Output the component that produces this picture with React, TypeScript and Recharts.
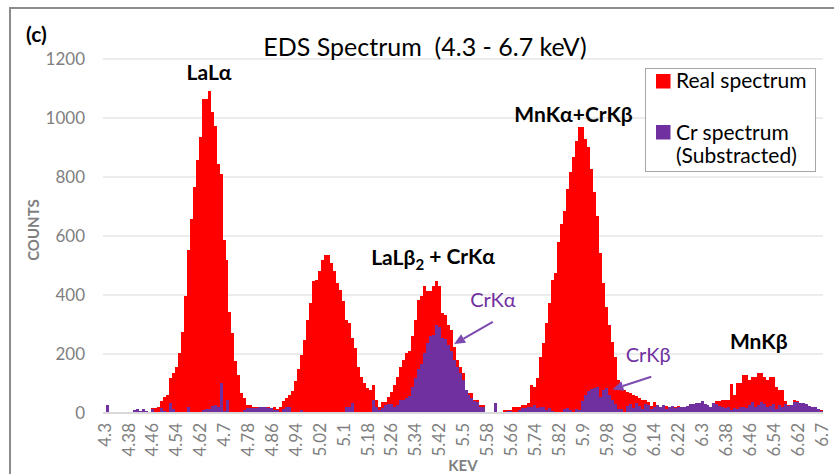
import React from "react";
import { BarChart, Bar, XAxis, YAxis, CartesianGrid, Legend, ReferenceDot, ReferenceLine } from "recharts";

const FONT = "Lato, 'Open Sans', sans-serif";
const RED = "#ff0000";
const PURPLE = "#7030a0";
const GREY = "#7f7f7f";

// energy bins (keV), 0.01 keV wide
const KEV = [
  4.3, 4.31, 4.32, 4.33, 4.34, 4.35, 4.36, 4.37, 4.38, 4.39,
  4.4, 4.41, 4.42, 4.43, 4.44, 4.45, 4.46, 4.47, 4.48, 4.49,
  4.5, 4.51, 4.52, 4.53, 4.54, 4.55, 4.56, 4.57, 4.58, 4.59,
  4.6, 4.61, 4.62, 4.63, 4.64, 4.65, 4.66, 4.67, 4.68, 4.69,
  4.7, 4.71, 4.72, 4.73, 4.74, 4.75, 4.76, 4.77, 4.78, 4.79,
  4.8, 4.81, 4.82, 4.83, 4.84, 4.85, 4.86, 4.87, 4.88, 4.89,
  4.9, 4.91, 4.92, 4.93, 4.94, 4.95, 4.96, 4.97, 4.98, 4.99,
  5.0, 5.01, 5.02, 5.03, 5.04, 5.05, 5.06, 5.07, 5.08, 5.09,
  5.1, 5.11, 5.12, 5.13, 5.14, 5.15, 5.16, 5.17, 5.18, 5.19,
  5.2, 5.21, 5.22, 5.23, 5.24, 5.25, 5.26, 5.27, 5.28, 5.29,
  5.3, 5.31, 5.32, 5.33, 5.34, 5.35, 5.36, 5.37, 5.38, 5.39,
  5.4, 5.41, 5.42, 5.43, 5.44, 5.45, 5.46, 5.47, 5.48, 5.49,
  5.5, 5.51, 5.52, 5.53, 5.54, 5.55, 5.56, 5.57, 5.58, 5.59,
  5.6, 5.61, 5.62, 5.63, 5.64, 5.65, 5.66, 5.67, 5.68, 5.69,
  5.7, 5.71, 5.72, 5.73, 5.74, 5.75, 5.76, 5.77, 5.78, 5.79,
  5.8, 5.81, 5.82, 5.83, 5.84, 5.85, 5.86, 5.87, 5.88, 5.89,
  5.9, 5.91, 5.92, 5.93, 5.94, 5.95, 5.96, 5.97, 5.98, 5.99,
  6.0, 6.01, 6.02, 6.03, 6.04, 6.05, 6.06, 6.07, 6.08, 6.09,
  6.1, 6.11, 6.12, 6.13, 6.14, 6.15, 6.16, 6.17, 6.18, 6.19,
  6.2, 6.21, 6.22, 6.23, 6.24, 6.25, 6.26, 6.27, 6.28, 6.29,
  6.3, 6.31, 6.32, 6.33, 6.34, 6.35, 6.36, 6.37, 6.38, 6.39,
  6.4, 6.41, 6.42, 6.43, 6.44, 6.45, 6.46, 6.47, 6.48, 6.49,
  6.5, 6.51, 6.52, 6.53, 6.54, 6.55, 6.56, 6.57, 6.58, 6.59,
  6.6, 6.61, 6.62, 6.63, 6.64, 6.65, 6.66, 6.67, 6.68, 6.69,
  6.7,
];

// real spectrum counts
const REAL = [
  0, 0, 0, 0, 0, 0, 0, 0, 0, 0,
  0, 0, 0, 0, 0, 0, 17, 17, 22, 42,
  55, 60, 119, 136, 156, 204, 275, 398, 554, 656,
  765, 857, 935, 1064, 1064, 1092, 1021, 973, 843, 809,
  588, 518, 342, 272, 175, 130, 68, 50, 27, 27,
  22, 20, 22, 20, 22, 20, 18, 20, 15, 20,
  39, 50, 61, 75, 110, 150, 197, 248, 316, 374,
  446, 452, 480, 520, 537, 537, 510, 480, 440, 418,
  378, 316, 306, 255, 220, 157, 123, 102, 85, 78,
  95, 44, 21, 38, 38, 55, 72, 95, 123, 157,
  180, 204, 210, 260, 316, 384, 395, 429, 412, 412,
  429, 446, 429, 340, 333, 300, 282, 225, 180, 157,
  136, 78, 68, 68, 44, 44, 27, 27, 5, 5,
  5, 34, 5, 5, 10, 10, 10, 21, 21, 21,
  27, 27, 34, 95, 89, 120, 190, 238, 306, 374,
  452, 476, 578, 640, 684, 758, 816, 867, 922, 968,
  968, 928, 901, 826, 748, 667, 544, 442, 361, 300,
  240, 191, 112, 85, 78, 72, 68, 62, 58, 50,
  44, 44, 38, 25, 38, 28, 22, 28, 24, 20,
  25, 22, 24, 21, 20, 25, 31, 31, 35, 35,
  39, 30, 27, 21, 34, 40, 42, 44, 44, 44,
  99, 60, 102, 102, 129, 129, 112, 122, 122, 137,
  137, 123, 112, 122, 122, 89, 78, 78, 39, 27,
  27, 44, 40, 34, 34, 30, 25, 21, 21, 15,
  10,
];

// Cr spectrum (subtracted) counts
const CR = [
  0, 27, 0, 0, 0, 0, 0, 0, 0, 0,
  10, 12, 8, 12, 8, 0, 14, 5, 0, 17,
  8, 0, 35, 15, 0, 0, 0, 0, 22, 0,
  0, 0, 0, 10, 12, 12, 24, 27, 20, 101,
  8, 44, 5, 0, 0, 0, 0, 10, 17, 17,
  18, 17, 20, 20, 20, 17, 17, 10, 10, 0,
  15, 20, 20, 0, 0, 0, 10, 0, 0, 0,
  0, 0, 0, 0, 0, 0, 0, 0, 0, 0,
  0, 21, 21, 34, 0, 0, 0, 0, 0, 0,
  44, 20, 10, 16, 28, 30, 30, 21, 28, 44,
  44, 52, 58, 89, 119, 150, 165, 204, 238, 260,
  265, 299, 293, 255, 250, 230, 210, 180, 157, 136,
  112, 78, 60, 52, 40, 36, 22, 20, 5, 0,
  0, 34, 0, 5, 5, 8, 8, 0, 0, 10,
  16, 16, 21, 21, 27, 16, 21, 21, 10, 17,
  8, 0, 5, 0, 12, 18, 10, 5, 15, 10,
  40, 61, 75, 80, 86, 89, 55, 78, 84, 60,
  44, 30, 12, 12, 0, 25, 30, 18, 34, 25,
  12, 30, 26, 15, 20, 28, 22, 26, 14, 20,
  25, 18, 21, 21, 20, 25, 31, 31, 35, 35,
  39, 30, 27, 21, 34, 30, 25, 20, 18, 22,
  10, 18, 15, 20, 22, 18, 26, 36, 22, 28,
  38, 30, 20, 25, 32, 15, 28, 22, 30, 25,
  27, 36, 38, 34, 34, 30, 25, 21, 21, 15,
  8,
];

const X_TICKS = [
  4.3, 4.38, 4.46, 4.54, 4.62, 4.7, 4.78, 4.86, 4.94, 5.02, 5.1, 5.18, 5.26, 5.34, 5.42, 5.5,
  5.58, 5.66, 5.74, 5.82, 5.9, 5.98, 6.06, 6.14, 6.22, 6.3, 6.38, 6.46, 6.54, 6.62, 6.7,
];
const Y_TICKS = [0, 200, 400, 600, 800, 1000, 1200];

const PEAKS = [
  { kev: 4.65, count: 1154, text: "LaLα", color: "#000", bold: true },
  { kev: 5.4, count: 525, text: "LaLβ", sub: "2", rest: " + CrKα", color: "#000", bold: true },
  { kev: 5.87, count: 1010, text: "MnKα+CrKβ", color: "#000", bold: true },
  { kev: 6.49, count: 241, text: "MnKβ", color: "#000", bold: true },
  { kev: 5.6, count: 383, text: "CrKα", color: PURPLE, bold: false },
  { kev: 6.12, count: 197, text: "CrKβ", color: PURPLE, bold: false },
];

const ARROWS = [
  { from: { x: 5.6, y: 309 }, to: { x: 5.47, y: 234 } },
  { from: { x: 6.13, y: 123 }, to: { x: 6.0, y: 80 } },
];

const data = KEV.map((kev, i) => ({ kev, real: REAL[i], cr: CR[i] }));

function KevTick({ x, y, payload }: any) {
  const ty = y + 2;
  return (
    <text x={x} y={ty} transform={`rotate(-90 ${x} ${ty})`} textAnchor="end" dy="0.36em"
      fill={GREY} fontSize={17} fontFamily={FONT}>
      {String(payload.value)}
    </text>
  );
}

function CountsTitle({ viewBox }: any) {
  const x = viewBox.x + 39;
  const y = viewBox.y + viewBox.height / 2 - 6;
  return (
    <text x={x} y={y} transform={`rotate(-90 ${x} ${y})`} textAnchor="middle"
      fill={GREY} fontSize={15} fontWeight={700} fontFamily={FONT}>
      COUNTS
    </text>
  );
}

function PeakText({ cx, cy, item }: any) {
  return (
    <text x={cx} y={cy} dy="0.35em" textAnchor="middle" fill={item.color} fontSize={item.bold ? 21 : 20}
      fontWeight={item.bold ? 700 : 400} fontFamily={FONT} style={{ whiteSpace: "pre" }}>
      {item.text}
      {item.sub && <tspan dy="0.3em" fontSize={15}>{item.sub}</tspan>}
      {item.rest && <tspan dy="-0.3em">{item.rest}</tspan>}
    </text>
  );
}

function Arrow({ x1, y1, x2, y2 }: any) {
  const a = Math.atan2(y2 - y1, x2 - x1);
  const L = 11;
  const W = 5;
  const bx = x2 - L * Math.cos(a);
  const by = y2 - L * Math.sin(a);
  const pts = [
    [x2, y2],
    [bx + W * Math.sin(a), by - W * Math.cos(a)],
    [bx - W * Math.sin(a), by + W * Math.cos(a)],
  ].map((p) => p.join(",")).join(" ");
  return (
    <g>
      <line x1={x1} y1={y1} x2={bx} y2={by} stroke="#7d4bb0" strokeWidth={2} />
      <polygon points={pts} fill="#7d4bb0" />
    </g>
  );
}

function LegendBox() {
  return (
    <svg width={171} height={104} style={{ display: "block" }}>
      <rect x={0.5} y={0.5} width={170} height={103} fill="#fff" stroke="#a6a6a6" />
      <rect x={11} y={6} width={14.5} height={14.5} fill={RED} />
      <text x={31} y={20} fontSize={21} fontFamily={FONT} fill="#000">Real spectrum</text>
      <rect x={11} y={57} width={14.5} height={14.5} fill={PURPLE} />
      <text x={31} y={72} fontSize={21} fontFamily={FONT} fill="#000">Cr spectrum</text>
      <text x={31} y={95} fontSize={21} fontFamily={FONT} fill="#000">(Substracted)</text>
    </svg>
  );
}

export default function App() {
  return (
    <div style={{ position: "fixed", left: 0, top: 0, width: 834, height: 474, background: "#fff" }}>
      <div style={{ position: "absolute", left: 9, top: 7, width: 840, height: 480,
        borderLeft: "2px solid #8c8c8c", borderTop: "2px solid #8c8c8c" }} />
      <BarChart width={834} height={474} data={data} margin={{ top: 59, right: 11, bottom: 0, left: 0 }}
        barCategoryGap={0} barGap="-100%">
        <CartesianGrid vertical={false} stroke="#d9d9d9" />
        <XAxis dataKey="kev" type="category" ticks={X_TICKS} interval={0} tick={<KevTick />}
          tickLine={false} axisLine={{ stroke: "#d9d9d9", strokeWidth: 2 }} height={61}
          label={{ value: "KEV", position: "insideBottom", offset: 3, fill: GREY, fontSize: 15,
            fontWeight: 700, fontFamily: FONT }} />
        <YAxis domain={[0, 1200]} ticks={Y_TICKS} width={103} tickLine={false} axisLine={false}
          tickMargin={12} tick={{ fill: GREY, fontSize: 17, fontFamily: FONT }} label={CountsTitle} />
        <Legend layout="vertical" align="center" verticalAlign="middle"
          wrapperStyle={{ left: 645, top: 68, width: 171, height: 104 }} content={LegendBox} />
        <Bar dataKey="real" name="Real spectrum" fill={RED} shapeRendering="crispEdges"
          isAnimationActive={false} />
        <Bar dataKey="cr" name="Cr spectrum (Substracted)" fill={PURPLE} shapeRendering="crispEdges"
          isAnimationActive={false} />
        {ARROWS.map((a, i) => (
          <ReferenceLine key={`arrow-${i}`} segment={[a.from, a.to]} shape={Arrow} ifOverflow="visible" />
        ))}
        {PEAKS.map((p) => (
          <ReferenceDot key={p.text} x={p.kev} y={p.count} r={0} ifOverflow="visible"
            shape={(props: any) => <PeakText {...props} item={p} />} />
        ))}
      </BarChart>
      <svg width={834} height={474} style={{ position: "absolute", left: 0, top: 0, pointerEvents: "none" }}>
        <text x={26} y={42} fontSize={21} fontWeight={700} fontFamily={FONT} fill="#000">(c)</text>
        <text x={425} y={56} textAnchor="middle" fontSize={25} fontFamily={FONT} fill="#000"
          style={{ whiteSpace: "pre" }}>EDS Spectrum  (4.3 - 6.7 keV)</text>
      </svg>
    </div>
  );
}
